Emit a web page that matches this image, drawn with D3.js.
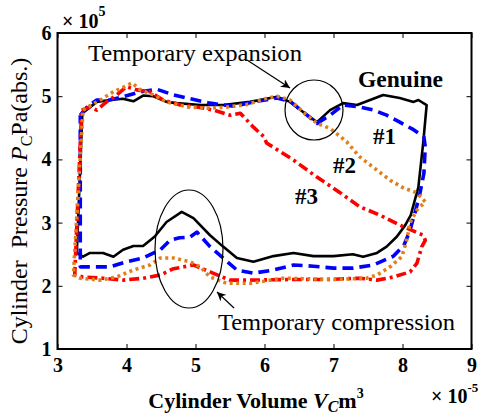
<!DOCTYPE html>
<html>
<head>
<meta charset="utf-8">
<script src="https://cdn.jsdelivr.net/npm/d3@7"></script>
</head>
<body style="margin:0;background:#fff">
<svg id="chart" width="483" height="417"></svg>
<script>
// volume in 1e-5 m^3, pressure in 1e5 Pa
const xTicks = [3, 4, 5, 6, 7, 8, 9];
const yTicks = [1, 2, 3, 4, 5, 6];

const genuine = [[3.36,4.73],[3.57,4.91],[3.76,4.94],[3.95,4.96],[4.10,4.92],[4.24,5.01],[4.39,5.00],[4.58,4.91],[4.73,4.89],[5.07,4.86],[5.40,4.86],[5.79,4.91],[6.18,4.99],[6.37,4.91],[6.56,4.75],[6.76,4.59],[6.95,4.78],[7.14,4.89],[7.34,4.86],[7.53,4.94],[7.72,5.02],[7.96,4.97],[8.16,4.91],[8.23,4.94],[8.35,4.86],[8.30,4.26],[8.23,3.56],[8.12,3.12],[8.04,2.96],[7.92,2.78],[7.77,2.62],[7.63,2.52],[7.43,2.46],[7.28,2.50],[7.00,2.47],[6.71,2.47],[6.42,2.52],[6.13,2.47],[5.84,2.38],[5.60,2.44],[5.40,2.62],[5.21,2.80],[4.97,3.07],[4.80,3.17],[4.58,3.01],[4.41,2.78],[4.24,2.63],[4.10,2.63],[3.95,2.57],[3.81,2.46],[3.66,2.52],[3.47,2.52],[3.37,2.46],[3.28,2.52],[3.36,4.73]];

const case1 = [[3.33,4.70],[3.43,4.83],[3.57,4.94],[3.76,4.94],[3.95,4.99],[4.20,5.07],[4.44,5.11],[4.68,5.02],[4.92,4.96],[5.21,4.89],[5.55,4.84],[5.89,4.92],[6.18,4.97],[6.37,4.92],[6.56,4.75],[6.76,4.57],[6.95,4.70],[7.14,4.86],[7.38,4.83],[7.58,4.78],[7.77,4.70],[7.96,4.59],[8.16,4.47],[8.31,4.36],[8.33,4.20],[8.31,3.78],[8.25,3.45],[8.18,3.15],[8.10,2.85],[8.02,2.64],[7.87,2.47],[7.58,2.33],[7.28,2.28],[7.00,2.28],[6.71,2.31],[6.42,2.33],[6.13,2.25],[5.84,2.20],[5.60,2.25],[5.40,2.44],[5.21,2.62],[5.02,2.85],[4.92,2.77],[4.77,2.76],[4.63,2.72],[4.49,2.57],[4.24,2.44],[4.00,2.38],[3.76,2.30],[3.52,2.30],[3.33,2.30],[3.33,4.70]];

const case2 = [[3.37,4.78],[3.44,4.83],[3.62,4.94],[3.81,5.07],[3.95,5.14],[4.08,5.21],[4.20,5.10],[4.39,5.02],[4.58,4.91],[4.88,4.83],[5.17,4.81],[5.46,4.83],[5.75,4.87],[6.04,4.97],[6.18,5.00],[6.37,4.94],[6.56,4.75],[6.76,4.57],[6.95,4.49],[7.10,4.36],[7.19,4.28],[7.38,4.04],[7.63,3.83],[7.82,3.67],[8.01,3.55],[8.21,3.47],[8.33,3.33],[8.21,3.20],[8.11,3.00],[8.06,2.72],[7.99,2.46],[7.82,2.30],[7.63,2.17],[7.48,2.12],[7.00,2.10],[6.27,2.12],[5.79,2.04],[5.45,2.04],[5.21,2.14],[5.07,2.30],[4.92,2.38],[4.68,2.44],[4.49,2.44],[4.34,2.33],[4.10,2.25],[3.86,2.14],[3.62,2.09],[3.33,2.12],[3.23,2.17],[3.37,4.78]];

const case3 = [[3.35,4.78],[3.47,4.83],[3.57,4.78],[3.71,4.91],[3.86,5.02],[4.00,5.15],[4.15,5.10],[4.34,5.07],[4.53,4.94],[4.78,4.86],[5.02,4.83],[5.26,4.78],[5.50,4.70],[5.65,4.73],[5.84,4.51],[5.99,4.36],[6.03,4.26],[6.42,3.99],[6.76,3.72],[7.10,3.47],[7.38,3.25],[7.67,3.12],[7.96,2.96],[8.30,2.80],[8.33,2.72],[8.28,2.62],[8.21,2.36],[8.11,2.22],[7.87,2.14],[7.63,2.09],[7.38,2.12],[6.90,2.10],[6.40,2.10],[5.79,2.09],[5.50,2.09],[5.21,2.22],[4.97,2.33],[4.83,2.30],[4.68,2.27],[4.49,2.17],[4.24,2.12],[3.95,2.09],[3.66,2.12],[3.37,2.14],[3.25,2.17],[3.35,4.78]];

const svg = d3.select('#chart');
const margin = { left: 57.5, right: 11.5, top: 33, bottom: 68 };
const W = +svg.attr('width'), H = +svg.attr('height');
const iw = W - margin.left - margin.right;
const ih = H - margin.top - margin.bottom;

const x = d3.scaleLinear().domain([3, 9]).range([0, iw]);
const y = d3.scaleLinear().domain([1, 6]).range([ih, 0]);

const g = svg.append('g').attr('transform', `translate(${margin.left},${margin.top})`);

// ticks on all four sides, pointing in
const tl = 5;
const styleTicks = a => a.selectAll('text').attr('font-size', 20).attr('font-weight', 'bold');
g.append('g').attr('transform', `translate(0,${ih})`)
  .call(d3.axisBottom(x).tickValues(xTicks).tickFormat(d3.format('d'))
    .tickSizeInner(-tl).tickSizeOuter(0).tickPadding(9))
  .call(a => a.select('.domain').remove())
  .call(styleTicks);
g.append('g')
  .call(d3.axisTop(x).tickValues(xTicks).tickSizeInner(-tl).tickSizeOuter(0).tickFormat(''))
  .call(a => a.select('.domain').remove());
g.append('g')
  .call(d3.axisLeft(y).tickValues(yTicks).tickFormat(d3.format('d'))
    .tickSizeInner(-tl).tickSizeOuter(0).tickPadding(6))
  .call(a => a.select('.domain').remove())
  .call(styleTicks);
g.append('g').attr('transform', `translate(${iw},0)`)
  .call(d3.axisRight(y).tickValues(yTicks).tickSizeInner(-tl).tickSizeOuter(0).tickFormat(''))
  .call(a => a.select('.domain').remove());
g.selectAll('.tick line').attr('stroke', '#000').attr('stroke-width', 1);

const line = d3.line().x(d => x(d[0])).y(d => y(d[1]));

const series = [
  { data: genuine, color: '#000000', width: 2.6, dash: null },
  { data: case1, color: '#0000ff', width: 3.6, dash: '11,6' },
  { data: case3, color: '#ff0000', width: 3.6, dash: '10,4,3,4' },
  { data: case2, color: '#e0801c', width: 3.6, dash: '3,3.5' },
];
g.selectAll('path.curve').data(series).enter().append('path')
  .attr('class', 'curve')
  .attr('d', d => line(d.data))
  .attr('fill', 'none')
  .attr('stroke', d => d.color)
  .attr('stroke-width', d => d.width)
  .attr('stroke-dasharray', d => d.dash)
  .attr('stroke-linejoin', 'round');

// frame
g.append('rect').attr('width', iw).attr('height', ih)
  .attr('fill', 'none').attr('stroke', '#000').attr('stroke-width', 2);

// annotations
svg.append('defs').append('marker')
  .attr('id', 'arr').attr('viewBox', '0 0 10 10').attr('refX', 10).attr('refY', 5)
  .attr('markerWidth', 9).attr('markerHeight', 9).attr('markerUnits', 'userSpaceOnUse')
  .attr('orient', 'auto')
  .append('path').attr('d', 'M0,0L10,5L0,10L3,5Z').attr('fill', '#000');

const ann = svg.append('g');
ann.append('ellipse').attr('cx', 314).attr('cy', 110).attr('rx', 29).attr('ry', 30)
  .attr('fill', 'none').attr('stroke', '#000').attr('stroke-width', 1.2);
ann.append('line').attr('x1', 247).attr('y1', 60).attr('x2', 290).attr('y2', 88)
  .attr('stroke', '#000').attr('stroke-width', 1.2).attr('marker-end', 'url(#arr)');
ann.append('text').attr('x', 88).attr('y', 61).attr('font-size', 24)
  .attr('textLength', 214).attr('lengthAdjust', 'spacingAndGlyphs').text('Temporary expansion');

ann.append('ellipse').attr('cx', 189).attr('cy', 249).attr('rx', 34).attr('ry', 59)
  .attr('fill', 'none').attr('stroke', '#000').attr('stroke-width', 1.2);
ann.append('line').attr('x1', 234).attr('y1', 308).attr('x2', 217).attr('y2', 292)
  .attr('stroke', '#000').attr('stroke-width', 1.2).attr('marker-end', 'url(#arr)');
ann.append('text').attr('x', 218).attr('y', 330).attr('font-size', 23)
  .attr('textLength', 237).attr('lengthAdjust', 'spacingAndGlyphs').text('Temporary compression');

ann.append('text').attr('x', 358).attr('y', 87).attr('font-size', 23).attr('font-weight', 'bold')
  .attr('textLength', 85).attr('lengthAdjust', 'spacingAndGlyphs').text('Genuine');
ann.append('text').attr('x', 373).attr('y', 144).attr('font-size', 23).attr('font-weight', 'bold').text('#1');
ann.append('text').attr('x', 333).attr('y', 173).attr('font-size', 23).attr('font-weight', 'bold').text('#2');
ann.append('text').attr('x', 295).attr('y', 204).attr('font-size', 23).attr('font-weight', 'bold').text('#3');

// multipliers
const m1 = svg.append('text').attr('x', 62).attr('y', 28).attr('font-size', 20).attr('font-weight', 'bold');
m1.append('tspan').text('× 10');
m1.append('tspan').attr('dy', -12).attr('font-size', 14).text('5');
const m2 = svg.append('text').attr('x', 431).attr('y', 403).attr('font-size', 20).attr('font-weight', 'bold');
m2.append('tspan').text('× 10');
m2.append('tspan').attr('dy', -11).attr('font-size', 13).text('-5');

// axis titles
const xt = svg.append('text').attr('x', 256).attr('y', 408).attr('text-anchor', 'middle')
  .attr('font-size', 22).attr('font-weight', 'bold');
xt.append('tspan').text('Cylinder Volume ');
xt.append('tspan').attr('font-style', 'italic').text('V');
xt.append('tspan').attr('font-size', 16).attr('dy', 4).attr('font-style', 'italic').text('C');
xt.append('tspan').attr('dy', -4).text('m');
xt.append('tspan').attr('font-size', 14).attr('dy', -10).text('3');

const yt = svg.append('text').attr('transform', 'translate(27,201) rotate(-90)')
  .attr('text-anchor', 'middle').attr('font-size', 24);
yt.append('tspan').text('Cylinder\u00a0\u00a0Pressure ');
yt.append('tspan').attr('font-style', 'italic').text('P');
yt.append('tspan').attr('font-size', 16).attr('dy', 5).text('C');
yt.append('tspan').attr('dy', -5).text('Pa(abs.)');

// serif everywhere
svg.selectAll('text').style('font-family', '"Liberation Serif"').style('fill', '#000');
</script>
</body>
</html>
